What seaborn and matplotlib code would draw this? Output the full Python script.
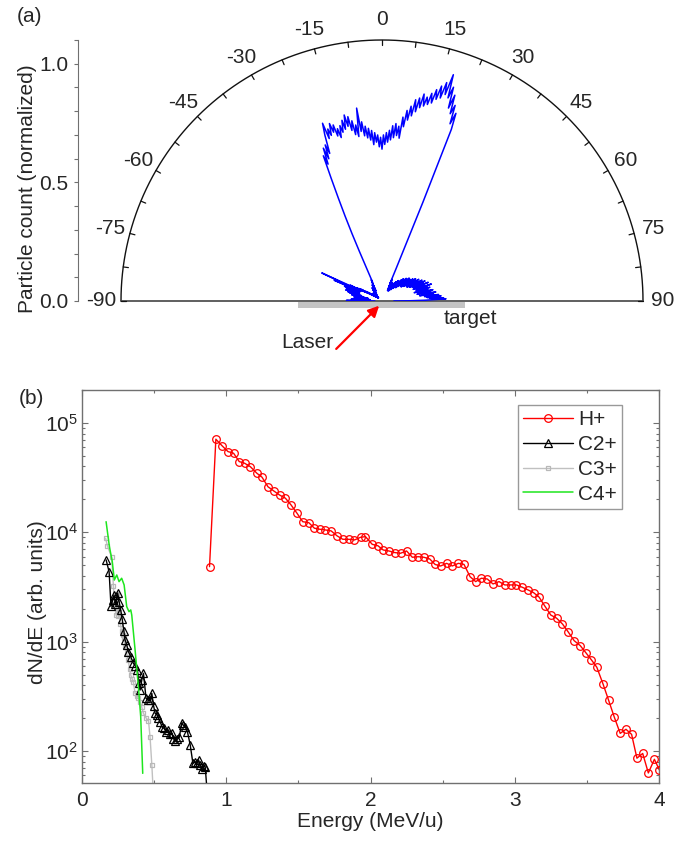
import numpy as np
import pandas as pd
import matplotlib
matplotlib.use("Agg")
import matplotlib.pyplot as plt
import seaborn as sns
from matplotlib.ticker import MultipleLocator, LogLocator, NullFormatter

# ---------------------------------------------------------------
# (a) angular distribution of emitted particles, 0.5 deg sampling
# ---------------------------------------------------------------
angle_first, angle_last, angle_step = -90.0, 90.0, 0.5
particle_count = [
    # -90 .. -80.5
    0.03, 0.10, 0.15, 0.07, 0.12, 0.05, 0.09, 0.13, 0.06, 0.10,
    0.08, 0.12, 0.05, 0.09, 0.07, 0.11, 0.06, 0.10, 0.08, 0.12,
    # -80 .. -70.5
    0.07, 0.11, 0.06, 0.13, 0.09, 0.08, 0.12, 0.10, 0.14, 0.09,
    0.11, 0.15, 0.10, 0.13, 0.16, 0.11, 0.14, 0.10, 0.15, 0.12,
    # -70 .. -60.5
    0.16, 0.11, 0.14, 0.17, 0.12, 0.15, 0.10, 0.22, 0.13, 0.16,
    0.28, 0.14, 0.11, 0.15, 0.09, 0.12, 0.08, 0.11, 0.07, 0.10,
    # -60 .. -50.5
    0.06, 0.08, 0.05, 0.07, 0.04, 0.06, 0.05, 0.04, 0.03, 0.05,
    0.04, 0.03, 0.05, 0.04, 0.03, 0.04, 0.02, 0.03, 0.04, 0.03,
    # -50 .. -40.5
    0.04, 0.03, 0.02, 0.04, 0.03, 0.05, 0.03, 0.04, 0.02, 0.03,
    0.04, 0.03, 0.05, 0.04, 0.03, 0.04, 0.05, 0.03, 0.04, 0.05,
    # -40 .. -30.5
    0.04, 0.06, 0.05, 0.04, 0.06, 0.05, 0.07, 0.05, 0.06, 0.04,
    0.06, 0.05, 0.07, 0.06, 0.05, 0.07, 0.06, 0.08, 0.06, 0.05,
    # -30 .. -20.5
    0.07, 0.06, 0.08, 0.07, 0.09, 0.08, 0.10, 0.09, 0.11, 0.13,
    0.17, 0.23, 0.31, 0.39, 0.47, 0.56, 0.66, 0.62, 0.69, 0.64,
    # -20 .. -10.5
    0.70, 0.66, 0.74, 0.79, 0.72, 0.76, 0.73, 0.78, 0.74, 0.77,
    0.72, 0.75, 0.71, 0.76, 0.73, 0.78, 0.74, 0.80, 0.75, 0.79,
    # -10 .. -0.5
    0.73, 0.77, 0.71, 0.75, 0.70, 0.82, 0.72, 0.76, 0.70, 0.74,
    0.69, 0.73, 0.68, 0.72, 0.66, 0.71, 0.67, 0.70, 0.65, 0.69,
    # 0 .. 9.5
    0.64, 0.70, 0.66, 0.71, 0.67, 0.72, 0.68, 0.74, 0.69, 0.75,
    0.70, 0.74, 0.69, 0.78, 0.74, 0.81, 0.77, 0.83, 0.79, 0.86,
    # 10 .. 19.5
    0.81, 0.87, 0.83, 0.89, 0.84, 0.88, 0.85, 0.90, 0.86, 0.92,
    0.88, 0.94, 0.89, 0.96, 0.91, 1.00, 0.90, 0.95, 0.86, 0.92,
    # 20 .. 21.5
    0.84, 0.88, 0.80, 0.85,
    # 22 .. 31.5
    0.78, 0.45, 0.24, 0.15, 0.11, 0.08, 0.10, 0.07, 0.09, 0.06,
    0.08, 0.05, 0.07, 0.06, 0.09, 0.05, 0.07, 0.06, 0.08, 0.06,
    # 32 .. 41.5
    0.07, 0.05, 0.08, 0.06, 0.09, 0.07, 0.06, 0.08, 0.10, 0.07,
    0.09, 0.06, 0.08, 0.11, 0.07, 0.09, 0.08, 0.10, 0.07, 0.11,
    # 42 .. 51.5
    0.09, 0.12, 0.08, 0.10, 0.13, 0.09, 0.11, 0.08, 0.12, 0.10,
    0.14, 0.09, 0.12, 0.10, 0.13, 0.11, 0.15, 0.10, 0.12, 0.14,
    # 52 .. 61.5
    0.11, 0.15, 0.12, 0.10, 0.14, 0.16, 0.12, 0.15, 0.11, 0.17,
    0.13, 0.15, 0.12, 0.16, 0.14, 0.18, 0.13, 0.16, 0.12, 0.17,
    # 62 .. 71.5
    0.14, 0.19, 0.15, 0.13, 0.18, 0.16, 0.20, 0.14, 0.17, 0.15,
    0.19, 0.16, 0.21, 0.15, 0.18, 0.14, 0.19, 0.17, 0.22, 0.16,
    # 72 .. 81.5
    0.19, 0.15, 0.20, 0.17, 0.21, 0.16, 0.19, 0.14, 0.18, 0.20,
    0.16, 0.22, 0.17, 0.19, 0.15, 0.21, 0.18, 0.23, 0.17, 0.20,
    # 82 .. 90
    0.16, 0.22, 0.19, 0.24, 0.18, 0.21, 0.25, 0.19, 0.23, 0.20,
    0.26, 0.22, 0.27, 0.21, 0.18, 0.12, 0.05,
]
arc_labels = [-90, -75, -60, -45, -30, -15, 0, 15, 30, 45, 60, 75, 90]

# ---------------------------------------------------------------
# (b) energy spectra
# ---------------------------------------------------------------
h_energy = [0.884, 0.928, 0.970, 1.012, 1.051, 1.090, 1.127, 1.167, 1.213, 1.248,
            1.289, 1.329, 1.370, 1.410, 1.449, 1.491, 1.530, 1.572, 1.611, 1.648,
            1.688, 1.727, 1.769, 1.808, 1.849, 1.889, 1.931, 1.965, 2.012, 2.051,
            2.088, 2.127, 2.169, 2.208, 2.250, 2.290, 2.331, 2.370, 2.410, 2.448,
            2.486, 2.528, 2.567, 2.609, 2.648, 2.690, 2.729, 2.769, 2.810, 2.849,
            2.891, 2.931, 2.972, 3.012, 3.053, 3.092, 3.130, 3.169, 3.208, 3.250,
            3.290, 3.331, 3.370, 3.412, 3.454, 3.493, 3.532, 3.569, 3.612, 3.650,
            3.689, 3.731, 3.771, 3.810, 3.847, 3.887, 3.926, 3.968, 4.003]
h_counts = [4850, 71000, 62000, 54700, 52800, 44300, 42800, 39800, 34600, 31900,
            26100, 23900, 21900, 20500, 17800, 14900, 12500, 12250, 10900, 10660,
            10500, 10300, 9260, 8630, 8630, 8510, 9000, 9130, 7760, 7540,
            6890, 6750, 6520, 6430, 6750, 5910, 5980, 5910, 5710, 5080,
            4920, 5200, 4920, 5200, 5090, 3930, 3540, 3800, 3740, 3370,
            3540, 3300, 3300, 3300, 3140, 2970, 2810, 2550, 2120, 1750,
            1640, 1450, 1230, 1020, 920, 792, 680, 583, 410, 293,
            206, 145, 158, 142, 86, 95, 63, 84, 67]

c2_energy = [0.167, 0.188, 0.201, 0.213, 0.222, 0.232, 0.248, 0.258, 0.268, 0.279,
             0.290, 0.299, 0.310, 0.322, 0.338, 0.356, 0.370, 0.384, 0.395, 0.403,
             0.415, 0.426, 0.444, 0.460, 0.472, 0.484, 0.496, 0.507, 0.519, 0.530,
             0.542, 0.556, 0.569, 0.583, 0.599, 0.611, 0.623, 0.634, 0.646, 0.660,
             0.674, 0.692, 0.703, 0.715, 0.731, 0.750, 0.769, 0.784, 0.796, 0.808,
             0.820, 0.831, 0.843, 0.854, 0.866]
c2_counts = [5600, 4350, 2100, 2400, 2670, 2200, 2770, 2300, 1950, 1600,
             1250, 1035, 931, 809, 728, 634, 600, 551, 420, 361,
             450, 514, 303, 290, 293, 337, 260, 221, 215, 199,
             185, 165, 161, 150, 156, 142, 145, 130, 124, 128,
             133, 181, 172, 167, 150, 114, 77, 80, 77, 83,
             74, 69, 73, 72, 45]

c3_energy = [0.164, 0.176, 0.206, 0.218, 0.226, 0.236, 0.245, 0.252, 0.259, 0.266,
             0.274, 0.284, 0.292, 0.299, 0.310, 0.320, 0.330, 0.338, 0.347, 0.356,
             0.368, 0.380, 0.391, 0.403, 0.415, 0.426, 0.445, 0.461, 0.472, 0.484,
             0.495]
c3_counts = [8800, 7500, 5900, 3200, 2200, 1750, 2750, 1700, 1880, 1450,
             1250, 1150, 1070, 900, 790, 680, 560, 495, 460, 430,
             337, 320, 303, 283, 250, 221, 200, 189, 133, 75,
             40]

c4_energy = [0.167, 0.190, 0.210, 0.224, 0.241, 0.257, 0.275, 0.292, 0.310, 0.326,
             0.338, 0.345, 0.368, 0.391, 0.407, 0.421]
c4_counts = [12500, 7400, 5380, 3660, 4070, 3540, 3800, 3300, 2090, 1880,
             1950, 1750, 840, 387, 206, 62.5]

# ---------------------------------------------------------------
sns.set_style("ticks")
plt.rcParams["font.family"] = ["Liberation Sans", "DejaVu Sans"]
plt.rcParams["mathtext.fontset"] = "custom"
plt.rcParams["mathtext.rm"] = "Liberation Sans"
plt.rcParams["mathtext.it"] = "Liberation Sans:italic"
FS = 15

W, H = 690, 841
fig = plt.figure(figsize=(W / 100, H / 100), dpi=100)


def px_rect(left, top, right, bottom):
    return [left / W, 1 - bottom / H, (right - left) / W, (bottom - top) / H]


# ---------------- panel (a) ----------------
ax1 = fig.add_axes(px_rect(78, 40, 690, 301))
scale = 261 / 1.1          # pixels per data unit
cx = 382
ax1.set_xlim((78 - cx) / scale, (690 - cx) / scale)
ax1.set_ylim(0, 1.1)

theta = np.deg2rad(np.arange(angle_first, angle_last + angle_step / 2, angle_step))
r = np.asarray(particle_count)
polar_df = pd.DataFrame({"x": r * np.sin(theta), "y": r * np.cos(theta)})
sns.lineplot(data=polar_df, x="x", y="y", sort=False, estimator=None,
             color="#0000ff", lw=1.1, ax=ax1, zorder=4)

R = 1.1
arc_t = np.deg2rad(np.linspace(-90, 90, 361))
ax1.plot(R * np.sin(arc_t), R * np.cos(arc_t), color="#111111", lw=1.0,
         clip_on=False, zorder=3)
ax1.plot([-R, R], [0, 0], color="#444444", lw=1.2, clip_on=False, zorder=3)
for a in np.arange(-90, 90.1, 7.5):
    t = np.deg2rad(a)
    ax1.plot([R * np.sin(t), (R - 0.022) * np.sin(t)],
             [R * np.cos(t), (R - 0.022) * np.cos(t)],
             color="#111111", lw=0.9, clip_on=False, zorder=3)
for a in arc_labels:
    t = np.deg2rad(a)
    ax1.text(1.185 * np.sin(t), 1.185 * np.cos(t), f"{a}", fontsize=FS,
             ha="center", va="center", clip_on=False)

# target foil and incoming laser
ax1.fill_between([-0.352, 0.35], -0.031, -0.003, color="#c4c4c4", lw=0,
                 clip_on=False, zorder=2)
ax1.text(0.371, -0.072, "target", fontsize=FS, ha="center", va="center")
ax1.text(-0.315, -0.176, "Laser", fontsize=FS, ha="center", va="center")
ax1.annotate("", xy=(-0.012, -0.02), xytext=(-0.193, -0.202),
             arrowprops=dict(arrowstyle="-|>", color="red", lw=1.6,
                             mutation_scale=16, shrinkA=0, shrinkB=0),
             annotation_clip=False)

for s in ["top", "right", "bottom"]:
    ax1.spines[s].set_visible(False)
ax1.spines["left"].set_color("#707070")
ax1.set_xticks([])
ax1.set_yticks([0, 0.5, 1.0])
ax1.set_yticklabels(["0.0", "0.5", "1.0"])
ax1.yaxis.set_minor_locator(MultipleLocator(0.1))
ax1.tick_params(axis="y", which="both", direction="out", length=3,
                width=0.8, color="#707070", labelsize=FS, pad=4)
ax1.set_ylabel("Particle count (normalized)", fontsize=FS)
ax1.yaxis.set_label_coords(-0.067, 0.43)
ax1.set_xlabel("")

# ---------------- panel (b) ----------------
ax2 = fig.add_axes(px_rect(82, 390, 659, 783))
sns.lineplot(x=h_energy, y=h_counts, ax=ax2, color="red", lw=1.0, marker="o",
             markersize=5.5, markerfacecolor="none", markeredgecolor="red",
             markeredgewidth=0.9, label="H+", estimator=None, zorder=4)
sns.lineplot(x=c2_energy, y=c2_counts, ax=ax2, color="black", lw=1.0, marker="^",
             markersize=5.5, markerfacecolor="none", markeredgecolor="black",
             markeredgewidth=0.9, label="C2+", estimator=None, zorder=3)
sns.lineplot(x=c3_energy, y=c3_counts, ax=ax2, color="#c0c0c0", lw=1.0, marker="s",
             markersize=3.5, markerfacecolor="none", markeredgecolor="#b8b8b8",
             markeredgewidth=0.9, label="C3+", estimator=None, zorder=2)
sns.lineplot(x=c4_energy, y=c4_counts, ax=ax2, color="#1ee61e", lw=1.1,
             label="C4+", estimator=None, zorder=3)

ax2.set_yscale("log")
ax2.set_xlim(0, 4)
ax2.set_ylim(51, 2.0e5)
ax2.xaxis.set_major_locator(MultipleLocator(1))
ax2.xaxis.set_minor_locator(MultipleLocator(0.5))
ax2.yaxis.set_major_locator(LogLocator(base=10, numticks=10))
ax2.yaxis.set_minor_locator(LogLocator(base=10, subs=np.arange(2, 10), numticks=20))
ax2.yaxis.set_minor_formatter(NullFormatter())
ax2.tick_params(which="both", direction="in", top=True, right=True,
                color="#707070", width=0.8, labelsize=FS)
ax2.tick_params(which="major", length=4)
ax2.tick_params(which="minor", length=2.5)
ax2.tick_params(axis="x", pad=6)
ax2.tick_params(axis="y", pad=3)
for s in ax2.spines.values():
    s.set_color("#707070")
    s.set_linewidth(1.0)
ax2.set_xlabel("Energy (MeV/u)", fontsize=FS)
ax2.set_ylabel("dN/dE (arb. units)", fontsize=FS)
ax2.yaxis.set_label_coords(-0.06, 0.46)
ax2.xaxis.set_label_coords(0.5, -0.075)

leg = ax2.legend(loc="upper right", bbox_to_anchor=(0.936, 0.962), fontsize=FS,
                 frameon=True, fancybox=False, borderaxespad=0, borderpad=0.25,
                 handlelength=2.4, handletextpad=0.25, labelspacing=0.28)
leg.get_frame().set_edgecolor("#808080")
leg.get_frame().set_linewidth(1.0)

fig.text(30 / W, 1 - 17 / H, "(a)", fontsize=FS, ha="center", va="center")
fig.text(31 / W, 1 - 399 / H, "(b)", fontsize=FS, ha="center", va="center")

fig.savefig("out.png", dpi=100)
